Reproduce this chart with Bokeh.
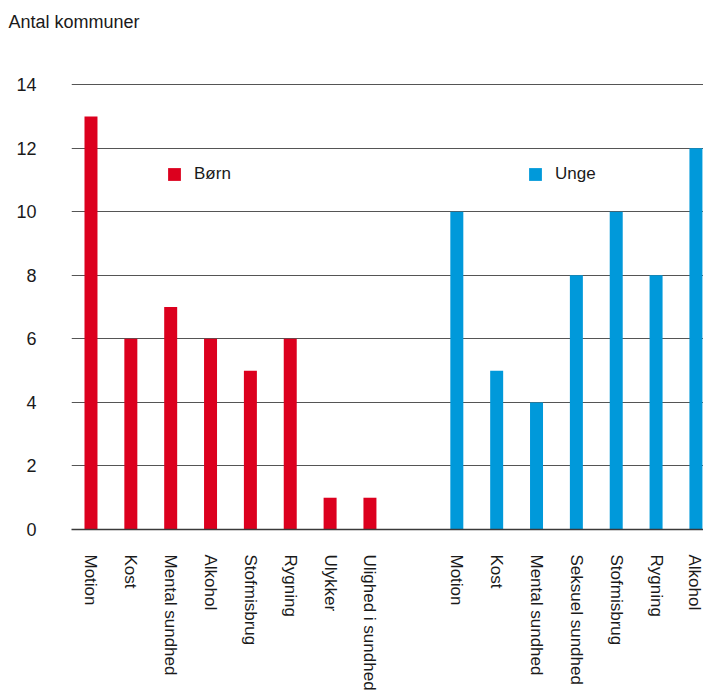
import math
from bokeh.plotting import figure
from bokeh.models import Range1d, FixedTicker, Legend, LegendItem, ColumnDataSource
from bokeh.embed import file_html
from bokeh.resources import INLINE

# Number of municipalities working with each health area
born_labels = ["Motion", "Kost", "Mental sundhed", "Alkohol", "Stofmisbrug",
               "Rygning", "Ulykker", "Ulighed i sundhed"]
born_values = [13, 6, 7, 6, 5, 6, 1, 1]

unge_labels = ["Motion", "Kost", "Mental sundhed", "Seksuel sundhed",
               "Stofmisbrug", "Rygning", "Alkohol"]
unge_values = [10, 5, 4, 8, 10, 8, 12]

y_ticks = [0, 2, 4, 6, 8, 10, 12, 14]

RED = "#DC001E"
BLUE = "#0099DA"
FONT = "Liberation Sans"

# slot positions: children first, then a gap, then the youth group
group_gap = 1.18
born_x = [float(i) for i in range(len(born_labels))]
unge_x = [round(len(born_labels) + group_gap + i, 3) for i in range(len(unge_labels))]

# frame runs up to just below the caption; empty headroom above the 14 line
p = figure(width=703, height=693, output_backend="svg", toolbar_location=None,
           x_range=Range1d(-0.489, 15.37), y_range=Range1d(0, 15.548),
           min_border_left=71, min_border_right=0, min_border_top=35,
           min_border_bottom=163)
p.outline_line_color = None
p.background_fill_color = "white"
p.border_fill_color = "white"

bar_w = 0.326
src_b = ColumnDataSource(dict(x=born_x, top=born_values))
src_u = ColumnDataSource(dict(x=unge_x, top=unge_values))
rb = p.vbar(x="x", top="top", width=bar_w, bottom=0, source=src_b,
            fill_color=RED, line_color=None)
ru = p.vbar(x="x", top="top", width=bar_w, bottom=0, source=src_u,
            fill_color=BLUE, line_color=None)

# y axis: labels only, horizontal grid lines
p.yaxis.ticker = FixedTicker(ticks=y_ticks)
p.yaxis.axis_line_color = None
p.yaxis.major_tick_line_color = None
p.yaxis.minor_tick_line_color = None
p.yaxis.major_label_standoff = 29
p.yaxis.major_label_text_font = FONT
p.yaxis.major_label_text_font_size = "18px"
p.yaxis.major_label_text_color = "#1a1a1a"
p.ygrid.ticker = FixedTicker(ticks=y_ticks)
p.ygrid.grid_line_color = "#555555"
p.ygrid.grid_line_width = 1
p.xgrid.grid_line_color = None

# x axis: category names rotated to read downwards
all_x = born_x + unge_x
overrides = {x: lab for x, lab in zip(all_x, born_labels + unge_labels)}
p.xaxis.ticker = FixedTicker(ticks=all_x)
p.xaxis.major_label_overrides = overrides
p.xaxis.major_label_orientation = -math.pi / 2
p.xaxis.axis_line_color = "#3a3a3a"
p.xaxis.axis_line_width = 1.5
p.xaxis.major_tick_line_color = None
p.xaxis.minor_tick_line_color = None
p.xaxis.major_label_standoff = 19
p.xaxis.major_label_text_font = FONT
p.xaxis.major_label_text_font_size = "17px"
p.xaxis.major_label_text_color = "#1a1a1a"

# value-axis caption at the top left
p.title.text = "Antal kommuner"
p.title.text_font = FONT
p.title.text_font_size = "18px"
p.title.text_font_style = "normal"
p.title.text_color = "#1a1a1a"
p.title.align = "left"
p.title.offset = -63
p.title.standoff = 8

def make_legend(renderer, label, x, y):
    leg = Legend(items=[LegendItem(label=label, renderers=[renderer])],
                 location=(x, y), orientation="horizontal")
    leg.glyph_width = 16
    leg.glyph_height = 16
    leg.label_standoff = 12
    leg.padding = 0
    leg.margin = 0
    leg.spacing = 0
    leg.border_line_alpha = 0
    leg.background_fill_alpha = 0
    leg.label_text_font = FONT
    leg.label_text_font_size = "17px"
    leg.label_text_color = "#1a1a1a"
    return leg

p.add_layout(make_legend(rb, "Børn", 95, 345))
p.add_layout(make_legend(ru, "Unge", 456, 345))

open("out.html", "w").write(file_html(p, INLINE))
